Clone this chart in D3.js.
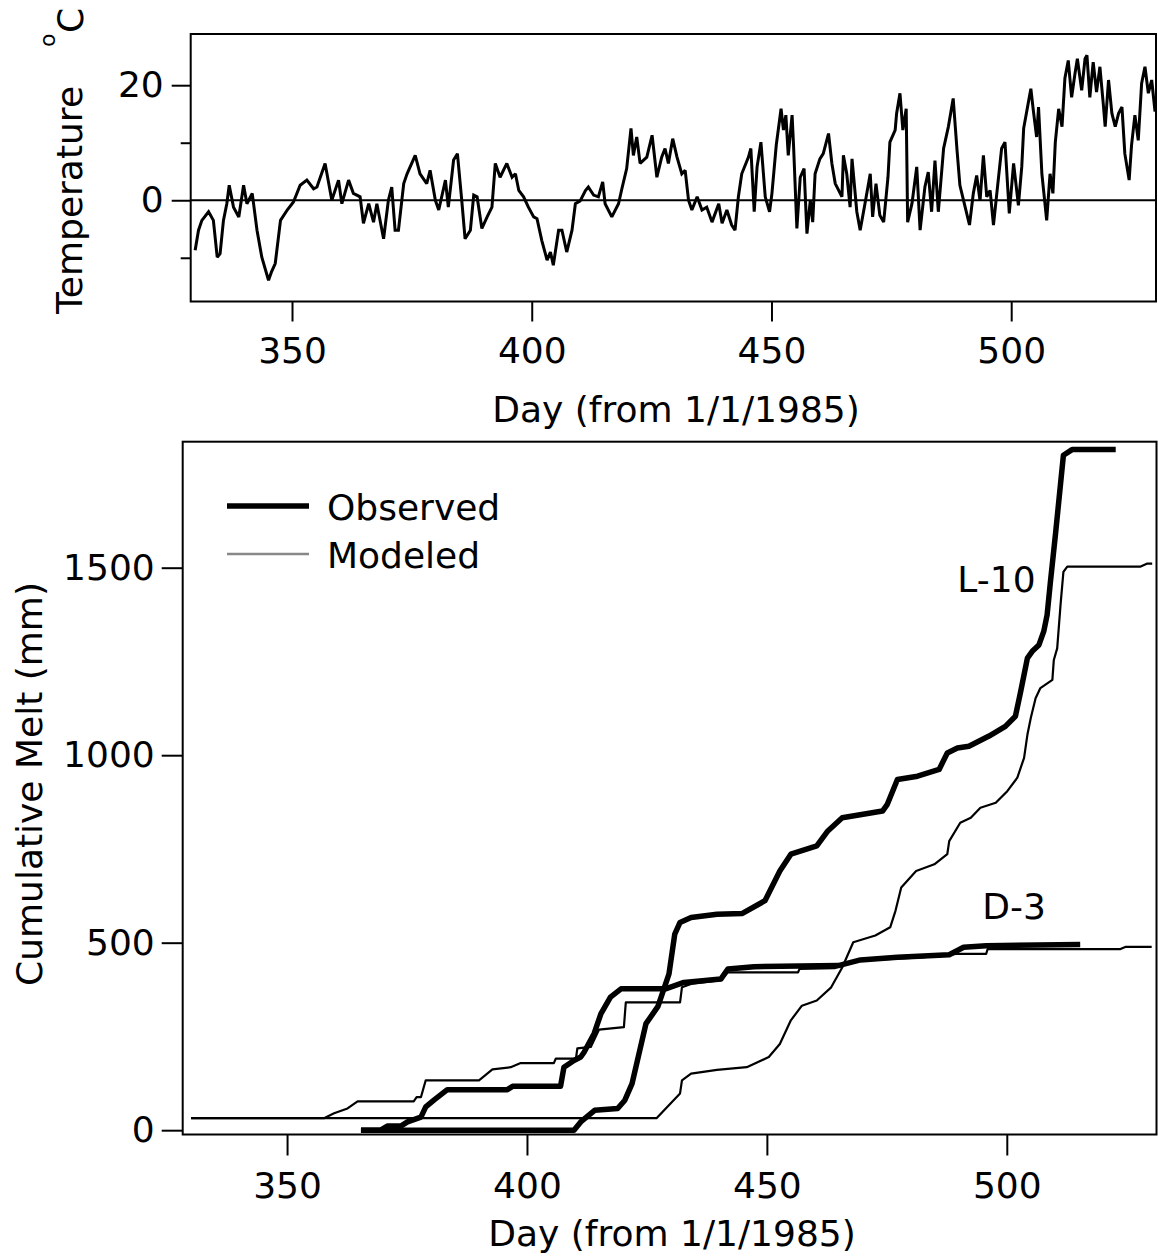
<!DOCTYPE html>
<html>
<head>
<meta charset="utf-8">
<script src="https://cdn.jsdelivr.net/npm/d3@7"></script>
<style>
  html, body { margin: 0; padding: 0; background: #fff; }
  svg text { font-family: "DejaVu Sans", Verdana, sans-serif; fill: #000; }
</style>
</head>
<body>
<svg id="chart" width="1158" height="1257"></svg>
<script>
// ---------------- DATA ----------------
const xTickValues = [350, 400, 450, 500];
const tempTickLabels = [0, 20];
const tempMinorTicks = [-10, 10];
const meltTickValues = [0, 500, 1000, 1500];

const tempDays = [329.8,330.5,331.2,332.6,333.6,334.4,335.0,335.7,336.4,336.9,337.8,338.9,339.9,340.6,341.7,342.7,343.7,345.1,345.7,346.5,
347.6,349.0,350.3,351.7,353.1,354.5,355.2,356.9,358.3,359.7,360.4,361.8,362.8,364.2,364.9,366.0,367.0,367.7,369.1,370.1,
370.8,371.5,372.2,373.3,374.0,375.7,376.7,378.1,378.8,379.9,380.6,382.0,382.6,383.7,384.5,385.4,386.1,387.2,387.9,388.6,
389.6,390.7,391.7,392.4,393.4,394.8,395.9,396.6,397.3,398.3,399.3,400.4,401.1,402.1,403.2,403.9,404.5,405.6,406.3,407.3,
408.4,409.1,410.1,411.2,411.8,412.9,413.9,414.8,415.3,416.7,418.1,418.8,419.8,420.7,421.2,421.9,422.6,424.0,425.1,426.1,
427.1,427.8,428.5,429.4,430.3,431.3,432.0,432.7,433.4,434.5,435.5,436.5,437.6,439.0,439.7,440.7,441.7,442.4,443.1,443.8,
445.2,445.7,446.4,447.0,447.8,448.7,449.6,450.1,451.0,452.0,452.5,453.0,453.5,454.3,454.6,455.3,456.0,456.8,457.4,458.1,
458.6,459.1,460.1,460.8,461.9,462.6,463.3,464.7,465.0,465.7,466.4,466.8,467.8,468.5,469.5,470.6,471.1,471.8,472.6,473.4,
474.3,474.7,475.8,476.1,476.8,477.4,478.1,478.4,479.3,480.3,481.0,482.0,482.7,483.4,484.1,484.8,485.9,486.9,487.9,488.7,
489.3,490.4,491.3,492.1,492.8,493.5,494.2,494.9,495.6,496.3,497.0,498.0,498.7,499.6,500.5,501.5,502.2,502.6,503.6,504.1,
504.6,505.3,505.7,506.4,507.4,508.1,508.7,509.2,509.9,510.6,511.2,511.9,512.6,513.3,513.8,514.7,515.4,515.8,516.4,517.1,
517.8,518.5,519.2,519.6,520.3,521.0,521.7,522.4,523.1,523.7,524.6,525.1,525.8,526.5,527.2,527.9,528.6,529.3,530.0];

const tempValues = [-8.7,-5.2,-3.5,-2.0,-3.5,-9.9,-9.3,-3.5,-0.6,2.6,-1.2,-2.9,2.6,-0.6,1.2,-5.2,-9.9,-13.9,-12.5,-11.0,
-3.5,-1.7,-0.3,2.6,3.5,2.0,2.3,6.4,0.0,3.5,-0.6,3.5,1.2,0.6,-4.0,-0.6,-3.8,-0.6,-6.7,0.0,
2.3,-5.2,-5.2,2.9,4.6,7.8,4.6,2.9,5.2,0.0,-1.7,3.5,-1.2,7.0,8.1,0.0,-6.7,-5.2,0.9,0.6,
-4.9,-2.9,-1.2,6.4,4.0,6.4,4.0,4.6,1.7,0.6,-1.2,-2.9,-3.2,-7.0,-10.4,-9.0,-11.3,-5.2,-5.2,-9.0,
-5.2,-0.6,-0.1,1.7,2.3,0.9,0.6,3.2,-0.6,-2.9,-0.6,2.0,5.5,12.5,7.8,11.0,6.4,7.5,11.3,4.0,
7.5,9.0,6.4,10.7,7.5,4.6,5.2,0.0,-1.7,0.6,-1.7,-1.2,-3.8,-0.6,-4.0,-1.7,-4.3,-5.2,0.6,4.6,
7.5,9.0,-2.0,5.8,10.1,0.6,-2.0,1.2,9.6,15.9,12.2,14.8,7.8,14.8,9.6,-4.9,4.0,5.5,-5.8,0.0,
-3.8,4.6,7.2,8.1,11.6,6.4,2.9,0.6,7.8,4.6,-1.2,7.2,-2.0,-5.2,-0.6,4.6,-2.9,2.9,-2.6,-3.8,
4.0,10.1,12.2,15.1,18.6,12.2,15.9,-3.8,-0.6,5.8,-5.2,2.3,4.9,-2.0,6.9,-2.0,9.0,12.8,17.7,8.7,
2.6,-1.2,-4.3,1.2,4.3,-0.1,7.8,0.6,1.7,-4.3,1.2,9.0,10.1,-2.3,6.4,-0.9,5.8,12.5,17.1,19.4,
15.7,11.0,16.2,4.6,-3.5,4.6,1.2,10.1,15.9,12.8,21.2,24.3,17.9,22.0,24.6,19.1,24.6,25.2,17.9,24.0,
18.8,23.2,16.8,12.8,20.9,15.1,12.8,15.1,16.2,8.1,3.5,9.6,14.8,10.4,20.3,23.2,18.6,20.9,15.4];

// Cumulative melt (mm)
const d3ObsDays = [365.4,369.5,370.9,373.7,375.1,377.9,378.9,380.6,383.4,395.9,397.0,407.0,407.7,409.8,411.2,411.9,414.0,415.4,417.4,419.6,428.9,432.7,440.4,441.9,447.3,464.9,469.5,477.2,488.0,491.0,495.7,515.3];
const d3ObsMelt = [0,0,11,11,22,35,62,80,108,108,117,117,168,186,195,208,258,310,355,377,377,394,403,430,436,439,454,461,468,488,492,495];

const d3ModDays = [330.0,357.7,359.8,362.6,364.7,376.4,377.0,377.9,378.9,390.0,392.8,396.6,398.7,405.6,406.0,410.2,410.5,413.3,415.0,420.2,420.6,431.9,432.3,434.2,440.4,441.8,456.5,456.8,464.1,468.7,482.3,489.5,495.7,496.0,523.7,524.8,530.2];
const d3ModMelt = [32,32,45,58,77,77,88,88,133,133,162,168,179,179,191,191,218,222,268,275,341,341,381,390,400,421,421,430,432,452,461,470,470,483,483,489,489];

const l10ObsDays = [365.4,409.8,411.2,414.1,418.9,420.4,421.9,424.8,427.3,429.6,430.8,431.9,434.2,439.6,444.9,449.6,452.7,455.0,460.4,462.7,465.7,474.1,475.1,477.2,481.4,485.9,487.6,489.7,492.1,496.3,499.7,501.8,502.9,504.3,505.3,506.7,507.7,508.4,509.1,510.2,511.8,513.6,522.7];
const l10ObsMelt = [0,0,22,53,58,80,124,284,330,417,523,554,567,576,578,612,691,736,758,798,833,851,869,935,944,962,1006,1019,1024,1051,1077,1104,1170,1259,1277,1294,1330,1374,1463,1596,1800,1815,1815];

const l10ModDays = [330.0,427.0,431.9,432.3,434.2,439.6,445.8,450.4,452.7,455.0,457.3,460.4,463.4,465.7,468.0,472.6,475.7,476.8,478.0,481.1,484.9,487.6,488.0,490.3,492.5,494.5,497.7,500.1,502.2,503.6,504.3,505.0,506.0,507.0,509.5,509.8,510.5,511.2,511.8,512.6,527.9,529.3,530.3];
const l10ModMelt = [32,32,98,133,151,161,168,195,230,293,332,346,381,434,501,519,541,585,647,691,709,736,771,820,833,860,873,904,940,993,1055,1099,1152,1179,1201,1254,1285,1401,1489,1503,1503,1511,1511];

const legendLabels = ["Observed", "Modeled"];
const siteLabels = [{text: "L-10", day: 489.7, melt: 1435}, {text: "D-3", day: 494.9, melt: 563}];

// ---------------- DRAW ----------------
const svg = d3.select("#chart");
const FONT = 36;
const zip = (a, b) => a.map((v, i) => [v, b[i]]);

// ===== Top panel: temperature =====
const tp = {left: 190.7, right: 1156, top: 34, bottom: 301.5};
const xT = d3.scaleLinear().domain([328.87, 530.2]).range([tp.left, tp.right]);
const yT = d3.scaleLinear().domain([-17.6, 28.9]).range([tp.bottom, tp.top]);

const gTop = svg.append("g");
gTop.append("line")
  .attr("x1", tp.left).attr("x2", tp.right)
  .attr("y1", yT(0)).attr("y2", yT(0))
  .attr("stroke", "#000").attr("stroke-width", 2);

gTop.append("path")
  .datum(zip(tempDays, tempValues))
  .attr("fill", "none").attr("stroke", "#000").attr("stroke-width", 3)
  .attr("stroke-linejoin", "miter").attr("stroke-miterlimit", 2)
  .attr("d", d3.line().x(d => xT(d[0])).y(d => yT(d[1])));

gTop.append("rect")
  .attr("x", tp.left).attr("y", tp.top)
  .attr("width", tp.right - tp.left).attr("height", tp.bottom - tp.top)
  .attr("fill", "none").attr("stroke", "#000").attr("stroke-width", 2);

const yAxT = gTop.append("g").attr("transform", `translate(${tp.left},0)`)
  .call(d3.axisLeft(yT).tickValues(tempTickLabels).tickSize(19).tickPadding(8).tickFormat(d3.format("d")));
const yAxTm = gTop.append("g").attr("transform", `translate(${tp.left},0)`)
  .call(d3.axisLeft(yT).tickValues(tempMinorTicks).tickSize(10).tickFormat(""));
const xAxT = gTop.append("g").attr("transform", `translate(0,${tp.bottom})`)
  .call(d3.axisBottom(xT).tickValues(xTickValues).tickSize(20).tickPadding(16).tickFormat(d3.format("d")));

[yAxT, yAxTm, xAxT].forEach(a => {
  a.select(".domain").remove();
  a.selectAll(".tick line").attr("stroke", "#000").attr("stroke-width", 2);
  a.selectAll(".tick text").attr("font-size", FONT).attr("font-family", "DejaVu Sans").attr("fill", "#000");
});

gTop.append("text")
  .attr("x", 676).attr("y", 421.5)
  .attr("text-anchor", "middle").attr("font-size", FONT)
  .text("Day (from 1/1/1985)");

gTop.append("text")
  .attr("transform", "translate(82,200) rotate(-90)")
  .attr("text-anchor", "middle").attr("font-size", FONT)
  .text("Temperature");
gTop.append("text")
  .attr("transform", "translate(83,33) rotate(-90)")
  .attr("text-anchor", "start").attr("font-size", FONT)
  .text("C");
gTop.append("text")
  .attr("transform", "translate(55,47) rotate(-90)")
  .attr("text-anchor", "start").attr("font-size", 22)
  .text("o");

// ===== Bottom panel: cumulative melt =====
const bp = {left: 182.7, right: 1156.5, top: 441.7, bottom: 1134.5};
const xM = d3.scaleLinear().domain([328.25, 531.2]).range([bp.left, bp.right]);
const yM = d3.scaleLinear().domain([-11.5, 1836]).range([bp.bottom, bp.top]);

const gBot = svg.append("g");
const lineM = d3.line().x(d => xM(d[0])).y(d => yM(d[1]));

const series = [
  {days: l10ModDays, melt: l10ModMelt, w: 2.2},
  {days: d3ModDays, melt: d3ModMelt, w: 2.2},
  {days: l10ObsDays, melt: l10ObsMelt, w: 5.5},
  {days: d3ObsDays, melt: d3ObsMelt, w: 5.5}
];
series.forEach(s => {
  gBot.append("path")
    .datum(zip(s.days, s.melt))
    .attr("fill", "none").attr("stroke", "#000").attr("stroke-width", s.w)
    .attr("stroke-linejoin", "round")
    .attr("d", lineM);
});

gBot.append("rect")
  .attr("x", bp.left).attr("y", bp.top)
  .attr("width", bp.right - bp.left).attr("height", bp.bottom - bp.top)
  .attr("fill", "none").attr("stroke", "#000").attr("stroke-width", 2);

const yAxM = gBot.append("g").attr("transform", `translate(${bp.left},0)`)
  .call(d3.axisLeft(yM).tickValues(meltTickValues).tickSize(21).tickPadding(7).tickFormat(d3.format("d")));
const xAxM = gBot.append("g").attr("transform", `translate(0,${bp.bottom})`)
  .call(d3.axisBottom(xM).tickValues(xTickValues).tickSize(21).tickPadding(17).tickFormat(d3.format("d")));
[yAxM, xAxM].forEach(a => {
  a.select(".domain").remove();
  a.selectAll(".tick line").attr("stroke", "#000").attr("stroke-width", 2);
  a.selectAll(".tick text").attr("font-size", FONT).attr("font-family", "DejaVu Sans").attr("fill", "#000");
});

gBot.append("text")
  .attr("x", 672).attr("y", 1246)
  .attr("text-anchor", "middle").attr("font-size", FONT)
  .text("Day (from 1/1/1985)");

gBot.append("text")
  .attr("transform", "translate(42,784) rotate(-90)")
  .attr("text-anchor", "middle").attr("font-size", FONT)
  .text("Cumulative Melt (mm)");

const legend = gBot.append("g");
const legendStyles = [{w: 5.5, c: "#000", y: 506}, {w: 2.5, c: "#888", y: 554}];
legendLabels.forEach((lab, i) => {
  const st = legendStyles[i];
  legend.append("line").attr("x1", 227).attr("x2", 309)
    .attr("y1", st.y).attr("y2", st.y)
    .attr("stroke", st.c).attr("stroke-width", st.w);
  legend.append("text").attr("x", 327).attr("y", st.y + 13.5)
    .attr("font-size", FONT).text(lab);
});

siteLabels.forEach(s => {
  gBot.append("text").attr("x", xM(s.day)).attr("y", yM(s.melt))
    .attr("font-size", FONT).text(s.text);
});
</script>
</body>
</html>
